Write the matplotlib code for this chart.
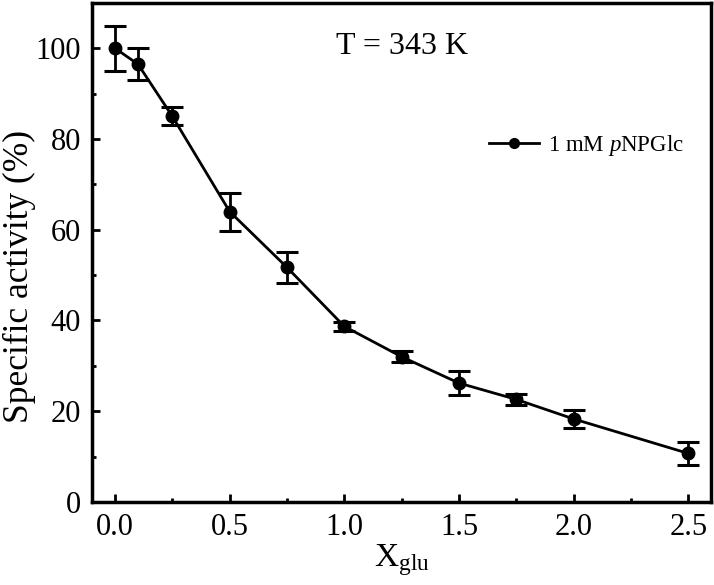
import matplotlib.pyplot as plt
from matplotlib.lines import Line2D
from matplotlib.ticker import MultipleLocator

# data
x_glu = [0.0, 0.1, 0.25, 0.5, 0.75, 1.0, 1.25, 1.5, 1.75, 2.0, 2.5]
activity = [100.0, 96.5, 85.0, 64.0, 51.7, 38.7, 32.0, 26.2, 22.6, 18.3, 10.7]
err = [5.0, 3.6, 2.0, 4.2, 3.5, 1.0, 1.2, 2.7, 1.3, 2.0, 2.5]

plt.rcParams['font.family'] = 'Liberation Serif'
plt.rcParams['mathtext.fontset'] = 'custom'
plt.rcParams['mathtext.rm'] = 'Liberation Serif'
plt.rcParams['mathtext.it'] = 'Liberation Serif:italic'

fig = plt.figure(figsize=(7.14, 5.85), dpi=100)
ax = fig.add_axes([0.129, 0.142, 0.867, 0.853])

ax.errorbar(x_glu, activity, yerr=err, color='black', lw=2, marker='o',
            ms=9, capsize=8, capthick=2.2, elinewidth=2)

ax.set_xlim(-0.1, 2.6)
ax.set_ylim(0, 110)
ax.xaxis.set_major_locator(MultipleLocator(0.5))
ax.xaxis.set_minor_locator(MultipleLocator(0.25))
ax.yaxis.set_major_locator(MultipleLocator(20))
ax.yaxis.set_minor_locator(MultipleLocator(10))
ax.tick_params(which='both', direction='in', labelsize=22, width=2)
ax.tick_params(which='major', length=6)
ax.tick_params(which='minor', length=3)
ax.tick_params(axis='x', pad=8)
ax.tick_params(axis='y', pad=8)
for s in ax.spines.values():
    s.set_linewidth(2.5)

ax.set_xlabel('X$_{\\rm glu}$', fontsize=24, labelpad=0)
ax.set_ylabel('Specific activity (%)', fontsize=25.5)
ax.yaxis.set_label_coords(-0.09, 0.451)
ax.text(0.5, 0.912, 'T = 343 K', transform=ax.transAxes, ha='center',
        va='center', fontsize=23)

handle = Line2D([], [], color='black', lw=2, marker='o', ms=7)
ax.legend([handle], ['1 mM $\\it{p}$NPGlc'], loc='upper right',
          bbox_to_anchor=(0.99, 0.78), frameon=False, fontsize=16.5,
          handlelength=2.2, handletextpad=0.4)

fig.savefig('out.png', dpi=100)
